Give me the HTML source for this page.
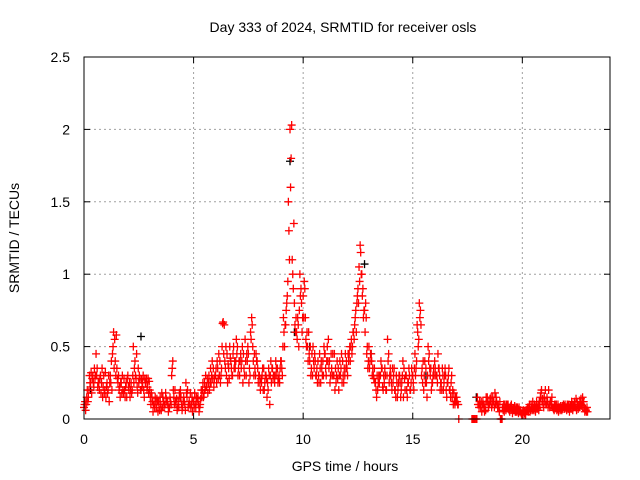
<!DOCTYPE html>
<html><head><meta charset="utf-8"><style>
body{margin:0;background:#fff}
svg{display:block;font-family:"Liberation Sans",sans-serif}
</style></head><body>
<svg id="chart" width="640" height="480" xmlns="http://www.w3.org/2000/svg">
<text x="343" y="32" font-size="14" text-anchor="middle">Day 333 of 2024, SRMTID for receiver osls</text>
<text x="345" y="471" font-size="14" text-anchor="middle">GPS time / hours</text>
<text transform="translate(19,238) rotate(-90)" font-size="14" text-anchor="middle">SRMTID / TECUs</text>
<g id="grid"></g><g id="ticks"></g><g id="marks"></g>
<rect x="84" y="57" width="526" height="362" fill="none" stroke="#000" stroke-width="1"/>
</svg>
<script>
const xTicks=[0,5,10,15,20];
const yTicks=[0,0.5,1,1.5,2,2.5];
const yTickLabels=["0","0.5","1","1.5","2","2.5"];
const seriesA=[0.08,0.1,0.15,0.25,0.3,0.28,0.35,0.2,0.25,0.3,
0.15,0.2,0.3,0.45,0.55,0.35,0.2,0.25,0.18,0.22,
0.3,0.15,0.2,0.35,0.45,0.25,0.2,0.3,0.25,0.22,
0.2,0.15,0.1,0.08,0.12,0.1,0.15,0.1,0.12,0.08,
0.3,0.15,0.1,0.12,0.2,0.08,0.1,0.15,0.12,0.1,
0.12,0.08,0.15,0.1,0.2,0.25,0.22,0.3,0.25,0.35,
0.3,0.35,0.4,0.5,0.65,0.3,0.35,0.4,0.45,0.35,
0.5,0.3,0.4,0.35,0.3,0.45,0.6,0.5,0.35,0.4,
0.3,0.25,0.35,0.3,0.2,0.3,0.35,0.25,0.3,0.3,
0.4,0.7,0.65,0.95,2.0,1.1,0.8,0.6,0.5,0.9,
0.85,0.7,0.5,0.4,0.45,0.35,0.3,0.3,0.25,0.4,
0.45,0.5,0.4,0.35,0.3,0.25,0.35,0.3,0.4,0.3,
0.35,0.45,0.55,0.6,0.75,0.9,1.2,0.85,0.75,0.45,
0.5,0.45,0.3,0.25,0.2,0.3,0.35,0.25,0.2,0.45,
0.3,0.25,0.2,0.15,0.3,0.25,0.35,0.3,0.25,0.2,
0.3,0.45,0.65,0.8,0.3,0.2,0.35,0.5,0.3,0.25,
0.4,0.3,0.35,0.25,0.2,0.3,0.25,0.2,0.15,0.12,
0.15,0.0,null,null,null,null,null,0.0,0.0,0.0,
0.1,0.08,0.12,0.1,0.15,0.1,0.08,0.12,0.15,0.1,
0.0,0.08,0.1,0.08,0.06,0.1,0.07,0.05,0.06,0.05,
0.04,0.05,0.06,0.08,0.1,0.07,0.05,0.08,0.1,0.12,
0.15,0.1,0.2,0.12,0.08,0.1,0.07,0.08,0.06,0.09,
0.08,0.07,0.09,0.06,0.1,0.12,0.08,0.1,0.12,0.06];
const seriesB=[0.12,0.2,0.3,0.18,0.22,0.45,0.25,0.3,0.15,0.2,
0.25,0.12,0.4,0.6,0.3,0.25,0.15,0.3,0.2,0.15,
0.2,0.25,0.5,0.3,0.18,0.28,0.22,0.15,0.28,0.18,
0.1,0.05,0.15,0.12,0.06,0.18,0.08,0.14,0.05,0.12,
0.4,0.2,0.06,0.18,0.1,0.15,0.25,0.08,0.18,0.05,
0.18,0.12,0.05,0.2,0.15,0.3,0.18,0.25,0.4,0.28,
0.25,0.45,0.3,0.67,0.35,0.25,0.5,0.3,0.35,0.55,
0.35,0.45,0.25,0.55,0.4,0.35,0.7,0.3,0.45,0.25,
0.2,0.35,0.25,0.15,0.3,0.25,0.3,0.4,0.25,0.35,
0.3,0.5,0.8,1.3,1.8,0.9,0.6,0.7,1.0,0.6,
0.95,0.5,0.6,0.3,0.5,0.4,0.25,0.45,0.35,0.5,
0.3,0.55,0.3,0.45,0.2,0.4,0.3,0.45,0.25,0.35,
0.45,0.4,0.5,0.65,0.8,1.05,1.0,0.7,0.8,0.35,
0.4,0.3,0.35,0.15,0.3,0.4,0.2,0.3,0.55,0.3,
0.2,0.35,0.3,0.25,0.15,0.4,0.2,0.15,0.3,0.35,
0.2,0.35,0.5,0.75,0.25,0.4,0.15,0.45,0.2,0.35,
0.3,0.45,0.2,0.35,0.3,0.15,0.35,0.25,0.1,0.15,
0.1,null,null,null,null,null,null,0.0,null,0.15,
0.12,0.05,0.08,0.15,0.08,0.12,0.15,0.18,0.1,0.05,
0.0,0.1,0.06,0.1,0.08,0.04,0.09,0.05,0.08,0.04,
0.06,0.03,0.08,0.05,0.06,0.1,0.12,0.06,0.18,0.1,
0.2,0.12,0.08,0.15,0.06,0.1,0.05,0.09,0.07,0.1,
0.1,0.05,0.12,0.08,0.14,0.07,0.1,0.15,0.05,0.08];
const seriesC=[0.1,0.15,0.2,0.32,0.25,0.3,0.22,0.28,0.35,0.18,
0.22,0.3,0.25,0.5,0.4,0.28,0.22,0.18,0.28,0.25,
0.22,0.2,0.3,0.4,0.22,0.3,0.27,0.2,0.25,0.28,
0.15,0.12,0.08,0.14,0.1,0.06,0.12,0.18,0.1,0.15,
0.35,0.1,0.14,0.08,0.15,0.12,0.06,0.2,0.1,0.15,
0.08,0.15,0.1,0.14,0.25,0.2,0.28,0.2,0.3,0.22,
0.35,0.28,0.25,0.66,0.4,0.45,0.28,0.35,0.5,0.4,
0.3,0.4,0.5,0.3,0.45,0.25,0.55,0.4,0.3,0.35,
0.25,0.3,0.2,0.28,0.35,0.4,0.28,0.3,0.35,0.25,
0.35,0.6,0.75,1.5,1.6,1.0,0.65,0.55,0.75,0.8,
0.7,0.55,0.4,0.5,0.3,0.45,0.35,0.25,0.4,0.3,
0.35,0.4,0.25,0.3,0.45,0.3,0.2,0.35,0.3,0.45,
0.3,0.5,0.45,0.55,0.6,0.8,1.15,0.9,0.6,0.5,
0.35,0.4,0.28,0.2,0.25,0.3,0.22,0.35,0.3,0.25,
0.25,0.3,0.15,0.2,0.25,0.3,0.28,0.2,0.35,0.25,
0.25,0.3,0.6,0.7,0.35,0.3,0.25,0.4,0.35,0.3,
0.35,0.25,0.3,0.2,0.25,0.2,0.3,0.15,0.2,0.1,
0.12,null,null,null,null,null,null,null,0.0,0.0,
0.08,0.12,0.1,0.06,0.12,0.14,0.1,0.08,0.12,0.08,
0.0,0.06,0.08,0.1,0.05,0.07,0.06,0.08,0.04,0.06,
0.05,0.04,0.07,0.1,0.08,0.06,0.09,0.1,0.15,0.14,
0.12,0.15,0.1,0.1,0.07,0.08,0.1,0.06,0.09,0.07,
0.06,0.1,0.07,0.09,0.08,0.1,0.12,0.09,0.08,0.05];
const seriesD=[0.06,0.12,0.25,0.28,0.35,0.3,0.25,0.18,0.22,0.32,
0.18,0.25,0.2,0.35,0.58,0.3,0.25,0.2,0.15,0.28,
0.25,0.18,0.25,0.28,0.35,0.2,0.25,0.28,0.2,0.26,
0.18,0.1,0.12,0.05,0.15,0.08,0.1,0.12,0.08,0.1,
0.2,0.12,0.08,0.15,0.06,0.12,0.18,0.1,0.08,0.12,
0.1,0.14,0.08,0.15,0.18,0.22,0.25,0.35,0.28,0.3,
0.4,0.3,0.35,0.45,0.5,0.38,0.42,0.3,0.4,0.45,
0.4,0.35,0.45,0.4,0.5,0.3,0.65,0.45,0.4,0.3,
0.28,0.2,0.3,0.25,0.1,0.35,0.3,0.35,0.28,0.4,
0.5,0.65,0.85,1.1,2.03,1.35,0.7,0.65,0.85,0.7,
0.9,0.6,0.45,0.35,0.4,0.3,0.4,0.35,0.3,0.45,
0.4,0.35,0.45,0.3,0.35,0.28,0.4,0.25,0.35,0.4,
0.4,0.5,0.6,0.7,0.85,0.95,1.0,0.75,0.7,0.4,
0.45,0.35,0.25,0.3,0.25,0.35,0.3,0.2,0.4,0.35,
0.35,0.2,0.25,0.3,0.2,0.15,0.3,0.25,0.2,0.3,
0.35,0.4,0.55,0.65,0.4,0.25,0.3,0.35,0.25,0.3,
0.3,0.35,0.25,0.3,0.35,0.25,0.2,0.3,0.18,0.12,
0.1,null,null,null,null,null,null,null,0.0,0.1,
0.1,0.1,0.05,0.12,0.1,0.15,0.12,0.1,0.08,0.12,
0.0,0.05,0.1,0.07,0.09,0.06,0.05,0.08,0.06,0.03,
0.03,0.06,0.05,0.06,0.12,0.08,0.07,0.12,0.2,0.08,
0.1,0.08,0.12,0.08,0.1,0.06,0.08,0.07,0.1,0.08,
0.09,0.08,0.1,0.12,0.06,0.09,0.14,0.12,0.07,0.05];
const seriesBlackTimes=[0.3,2.6,9.4,9.6,10.3,12.8,13.1,15.6,17.9];
const seriesBlackValues=[0.2,0.57,1.78,0.6,0.5,1.07,0.45,0.3,0.15];
const X0=84,X1=610,Y0=419,Y1=57,XMAX=24,YMAX=2.5;
const xs=v=>X0+(X1-X0)*v/XMAX;
const ys=v=>Y0-(Y0-Y1)*v/YMAX;
const NS="http://www.w3.org/2000/svg";
const grid=document.getElementById('grid'),ticks=document.getElementById('ticks'),marks=document.getElementById('marks');
function mk(tag,attrs,parent){const e=document.createElementNS(NS,tag);for(const k in attrs)e.setAttribute(k,attrs[k]);parent.appendChild(e);return e;}
xTicks.forEach(t=>{const x=xs(t);
 if(t>0){const g=mk('line',{x1:x,x2:x,y1:Y1,y2:Y0,stroke:'#a0a0a0','stroke-dasharray':'2,3'},grid);
 
 }
 mk('line',{x1:x,x2:x,y1:Y0,y2:Y0-6,stroke:'#000'},ticks);
 mk('line',{x1:x,x2:x,y1:Y1,y2:Y1+6,stroke:'#000'},ticks);
 const l=mk('text',{x:x,y:Y0+25,'font-size':14,'text-anchor':'middle'},ticks);l.textContent=t;
 
 });
yTicks.forEach((t,i)=>{const y=ys(t);
 if(t>0&&t<YMAX){const g=mk('line',{x1:X0,x2:X1,y1:y,y2:y,stroke:'#a0a0a0','stroke-dasharray':'2,3'},grid);
 
 }
 mk('line',{x1:X0,x2:X0+6,y1:y,y2:y,stroke:'#000'},ticks);
 mk('line',{x1:X1,x2:X1-6,y1:y,y2:y,stroke:'#000'},ticks);
 const l=mk('text',{x:X0-14,y:y+5,'font-size':14,'text-anchor':'end'},ticks);l.textContent=yTickLabels[i];
 
 });
function plus(t,v,color){const x=xs(t),y=ys(v);
 const p=mk('path',{d:`M${x-4},${y}H${x+4}M${x},${y-4}V${y+4}`,stroke:color,'stroke-width':1.3,fill:'none'},marks);
 
 }
seriesBlackTimes.forEach((t,i)=>plus(t,seriesBlackValues[i],'#000'));
seriesA.forEach((v,i)=>{if(v!==null)plus(i*0.1,v,'#ff0000');});
seriesB.forEach((v,i)=>{if(v!==null)plus(i*0.1+0.05,v,'#ff0000');});
seriesC.forEach((v,i)=>{if(v!==null)plus(i*0.1+0.025,v,'#ff0000');});
seriesD.forEach((v,i)=>{if(v!==null)plus(i*0.1+0.075,v,'#ff0000');});
</script>
</body></html>
